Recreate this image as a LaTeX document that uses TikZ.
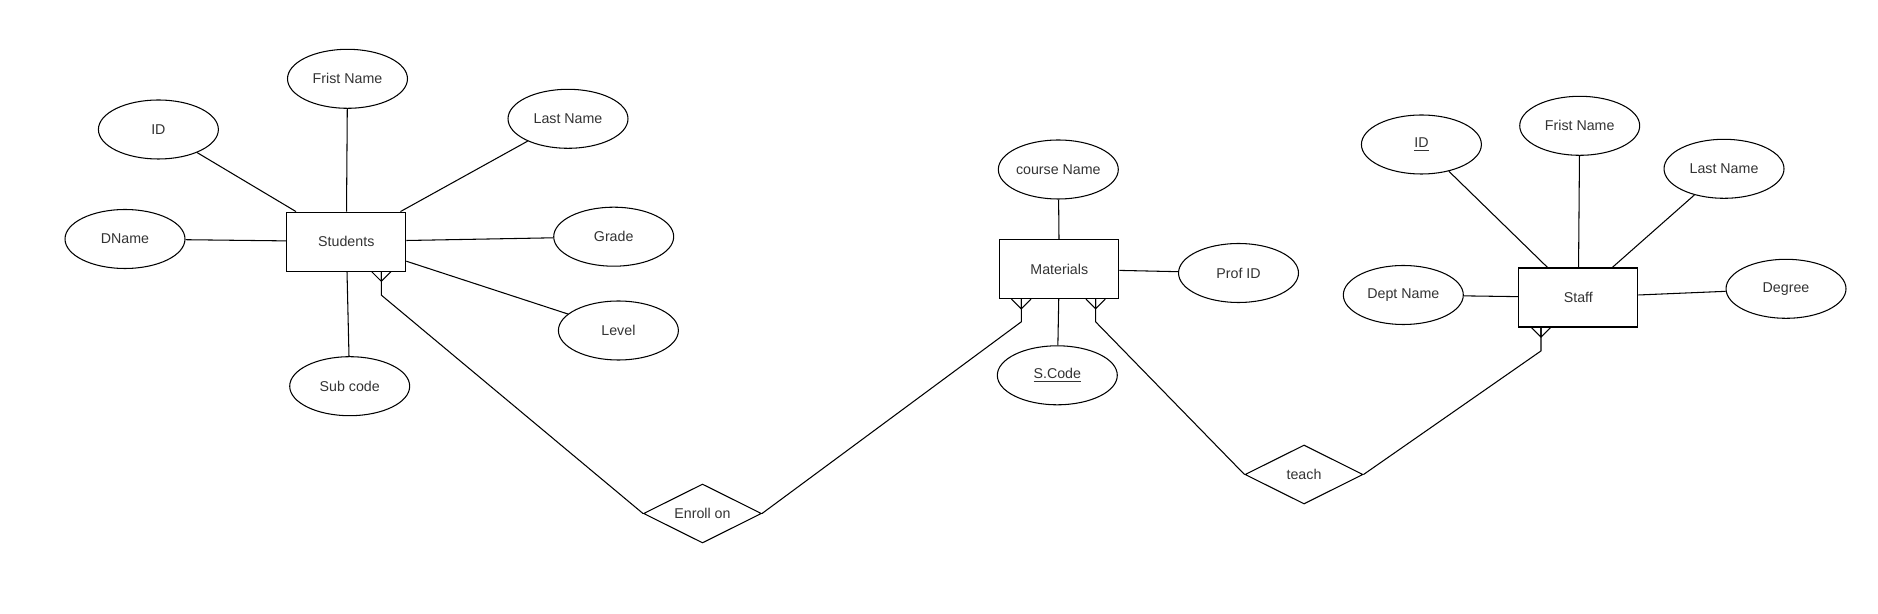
\documentclass[tikz,border=0pt]{standalone}
\usepackage{fontspec}
\setmainfont{Liberation Sans}
\usetikzlibrary{shapes.geometric,calc}

\begin{document}
\begin{tikzpicture}[x=0.02cm,y=-0.02cm,line width=0.6pt,
  every node/.style={font=\fontsize{8.1}{10}\selectfont,text=black!80},
  entity/.style={draw,rectangle,minimum width=2.38cm,minimum height=1.18cm,inner sep=0pt},
  attr/.style={draw,ellipse,minimum width=2.4cm,minimum height=1.18cm,inner sep=0pt},
  rel/.style={draw,diamond,aspect=2,minimum width=2.36cm,minimum height=1.18cm,inner sep=0pt}]
% white page
\fill[white] (0,0) rectangle (1878,614);

% draw entities
\node[entity] (stu) at (346.3,241.6) {Students};
\node[entity] (mat) at (1059.3,269.1) {Materials};
\node[entity] (stf) at (1578.3,297.5) {Staff};

% draw relationships
\node[rel] (enroll) at (702.5,513.5) {Enroll on};
\node[rel] (teach) at (1304,474.5) {teach};

% draw attributes of students
\node[attr] (sid) at (158.4,129.5) {ID};
\node[attr] (sfn) at (347.5,78.8) {Frist Name};
\node[attr] (sln) at (568,118.8) {Last Name};
\node[attr] (sdn) at (125,239) {DName};
\node[attr] (sgr) at (613.7,236.7) {Grade};
\node[attr] (slv) at (618.4,330.5) {Level};
\node[attr] (ssc) at (349.7,386.2) {Sub code};

% draw attributes of materials
\node[attr] (mcn) at (1058.3,169.5) {course Name};
\node[attr] (mpi) at (1238.5,273) {Prof ID};
\node[attr] (msc) at (1057.3,375.3) {\underline{S.Code}};

% draw attributes of staff
\node[attr] (tid) at (1421.4,144.5) {\underline{ID}};
\node[attr] (tfn) at (1579.7,125.8) {Frist Name};
\node[attr] (tln) at (1724,168.8) {Last Name};
\node[attr] (tdn) at (1403.3,295) {Dept Name};
\node[attr] (tdg) at (1786,288.8) {Degree};

% connect attributes
\foreach \a in {sid,sfn,sln,sdn,sgr,slv,ssc}
\draw (\a) -- (stu);
\foreach \a in {mcn,mpi,msc}
\draw (\a) -- (mat);
\foreach \a in {tid,tfn,tln,tdn,tdg}
\draw (\a) -- (stf);

% crow feet points
\coordinate (sf) at ($(stu.south east)+(-25,0)$);
\coordinate (mf1) at ($(mat.south west)+(22,0)$);
\coordinate (mf2) at ($(mat.south east)+(-23.7,0)$);
\coordinate (tf) at ($(stf.south west)+(22.7,0)$);
\foreach \f in {sf,mf1,mf2,tf}
\draw ($(\f)+(-9.7,0)$) -- ($(\f)+(0,9.7)$) -- ($(\f)+(9.7,0)$) ($(\f)+(0,9.7)$) -- (\f);

% draw relationship lines
\draw (sf) -- ++(0,23.5) -- (enroll.west);
\draw (mf1) -- ++(0,22.7) -- (enroll.east);
\draw (mf2) -- ++(0,22.7) -- (teach.west);
\draw (tf) -- ++(0,23.4) -- (teach.east);
\end{tikzpicture}
\end{document}
